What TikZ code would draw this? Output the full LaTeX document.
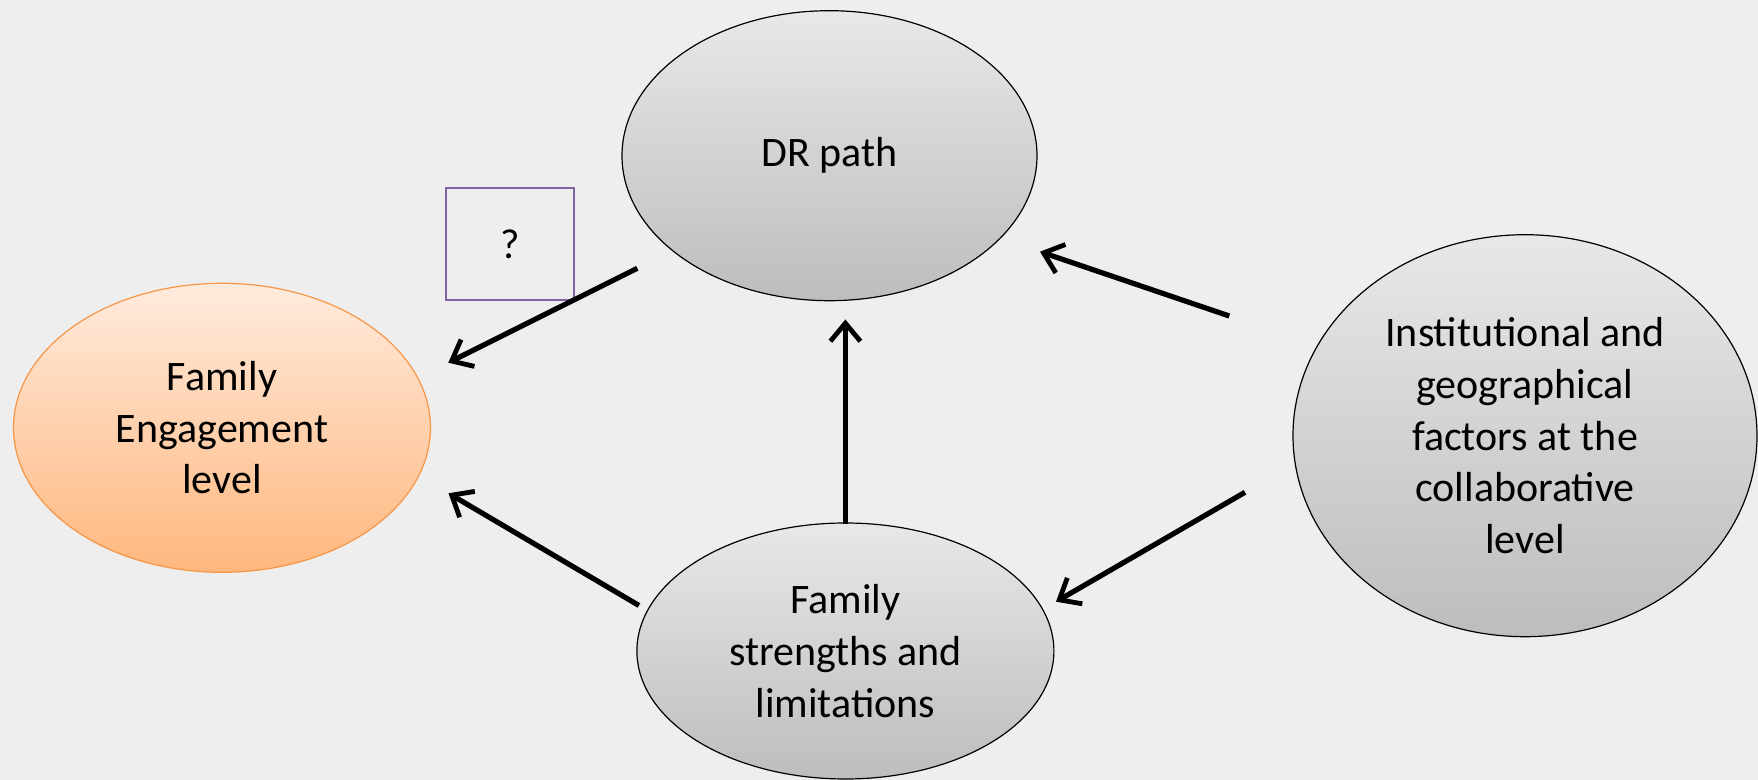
\documentclass[tikz,border=0pt]{standalone}
\usepackage{fontspec}
\setmainfont{Carlito}
\usetikzlibrary{shapes.geometric,arrows.meta}
\definecolor{bg}{HTML}{EEEEEE}
\definecolor{graytop}{HTML}{E8E8E8}
\definecolor{graybot}{HTML}{BDBDBD}
\definecolor{orangetop}{HTML}{FFEBDD}
\definecolor{orangebot}{HTML}{FFB77E}
\definecolor{orangeline}{HTML}{F79646}
\definecolor{purpleline}{HTML}{8064A2}
\tikzset{
  txt/.style={font=\fontsize{21}{25.8}\selectfont},
  grayell/.style={ellipse, draw=black, line width=0.6pt, top color=graytop, bottom color=graybot, inner sep=0pt, align=center, txt},
  orangeell/.style={ellipse, draw=orangeline, line width=0.6pt, top color=orangetop, bottom color=orangebot, inner sep=0pt, align=center, txt},
  qbox/.style={rectangle, draw=purpleline, line width=1pt, inner sep=0pt, minimum width=64pt, minimum height=56pt, txt},
  conn/.style={line width=2.6pt, -{Straight Barb[length=9pt,width=15pt,line width=2.4pt]}}
}
\begin{document}
\begin{tikzpicture}[x=0.5pt,y=-0.5pt]
\fill[bg] (0,0) rectangle (1758,780);
\useasboundingbox (0,0) rectangle (1758,780);
\node[grayell, minimum width=415pt*0.5, minimum height=290pt*0.5] (dr) at (829.5,155.7) {DR path};
\node[orangeell, minimum width=417pt*0.5, minimum height=289pt*0.5] (fe) at (222,427.8) {Family\\Engagement\\level};
\node[grayell, minimum width=417pt*0.5, minimum height=256pt*0.5] (fs) at (845.4,651) {Family\\strengths and\\limitations};
\node[grayell, minimum width=464pt*0.5, minimum height=402pt*0.5] (inst) at (1525,435.7) {Institutional and\\geographical\\factors at the\\collaborative\\level};
\node[qbox] (q) at (510,244) {?};
\coordinate (a1s) at (637.3,268.3);
\coordinate (a1e) at (448.3,362.7);
\coordinate (a2s) at (639,605.5);
\coordinate (a2e) at (448.5,493.3);
\coordinate (a3s) at (845.4,523.6);
\coordinate (a3e) at (845.4,319.5);
\coordinate (a4s) at (1229.3,316);
\coordinate (a4e) at (1040,251.7);
\coordinate (a5s) at (1245,492.3);
\coordinate (a5e) at (1056,601.7);
\draw[conn] (a1s) -- (a1e);
\draw[conn] (a2s) -- (a2e);
\draw[conn] (a3s) -- (a3e);
\draw[conn] (a4s) -- (a4e);
\draw[conn] (a5s) -- (a5e);
\end{tikzpicture}
\end{document}
